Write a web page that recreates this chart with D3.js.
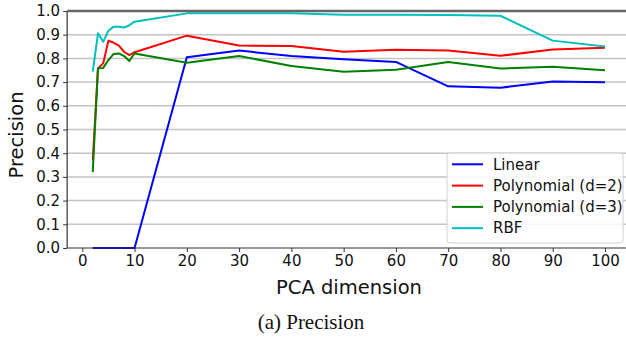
<!DOCTYPE html>
<html>
<head>
<meta charset="utf-8">
<script src="https://cdn.jsdelivr.net/npm/d3@7"></script>
<style>
  body { margin: 0; background: #fff; }
  text { font-family: "DejaVu Sans", sans-serif; }
</style>
</head>
<body>
<div id="chart"></div>
<script>
var dims = [2, 3, 4, 5, 6, 7, 8, 9, 10, 20, 30, 40, 50, 60, 70, 80, 90, 100];
var linear = [0, 0, 0, 0, 0, 0, 0, 0, 0, 0.805, 0.833, 0.81, 0.796, 0.785, 0.682, 0.676, 0.703, 0.699];
var poly2 = [0.37, 0.758, 0.779, 0.875, 0.866, 0.854, 0.828, 0.814, 0.826, 0.896, 0.854, 0.852, 0.828, 0.837, 0.833, 0.811, 0.838, 0.845];
var poly3 = [0.32, 0.758, 0.76, 0.793, 0.819, 0.821, 0.81, 0.789, 0.821, 0.782, 0.81, 0.768, 0.744, 0.752, 0.785, 0.757, 0.765, 0.75];
var rbf = [0.744, 0.906, 0.87, 0.917, 0.934, 0.934, 0.93, 0.94, 0.955, 0.99, 0.99, 0.99, 0.984, 0.984, 0.983, 0.98, 0.875, 0.85];

var seriesNames = ["Linear", "Polynomial (d=2)", "Polynomial (d=3)", "RBF"];
var seriesValues = [linear, poly2, poly3, rbf];
var colors = ["#0000ff", "#ff0000", "#008000", "#00bfbf"];
var xTicks = [0, 10, 20, 30, 40, 50, 60, 70, 80, 90, 100];
var yTicks = [0, 0.1, 0.2, 0.3, 0.4, 0.5, 0.6, 0.7, 0.8, 0.9, 1.0];

var width = 626;
var height = 339;

/* Scale */
var xScale = d3.scaleLinear().domain([0, 100]).range([82.3, 605]);
var yScale = d3.scaleLinear().domain([0, 1]).range([248, 11]);
var left = xScale(-2.9);
var right = xScale(104.9);

var svg = d3.select("#chart").append("svg")
  .attr("width", width)
  .attr("height", height);

/* Grid */
svg.append("g")
  .selectAll("line")
  .data(yTicks.slice(1, -1)).enter()
  .append("line")
  .attr("x1", left).attr("x2", right)
  .attr("y1", d => yScale(d)).attr("y2", d => yScale(d))
  .attr("stroke", "#c4c4c4")
  .attr("stroke-width", 1.5);

/* Lines */
var line = d3.line()
  .x((d, i) => xScale(dims[i]))
  .y(d => yScale(d));

svg.append("g")
  .selectAll("path")
  .data(seriesValues).enter()
  .append("path")
  .attr("d", d => line(d))
  .attr("fill", "none")
  .attr("stroke", (d, i) => colors[i])
  .attr("stroke-width", 2)
  .attr("stroke-linejoin", "round");

/* Axes */
var xAxis = d3.axisBottom(xScale).tickValues(xTicks).tickSize(4).tickPadding(3).tickFormat(d3.format("d"));
var yAxis = d3.axisLeft(yScale).tickValues(yTicks).tickSize(4).tickPadding(3).tickFormat(d3.format(".1f"));

var gx = svg.append("g")
  .attr("transform", `translate(0, ${yScale(0)})`)
  .call(xAxis);
var gy = svg.append("g")
  .attr("transform", `translate(${left}, 0)`)
  .call(yAxis);

[gx, gy].forEach(function (g) {
  g.select(".domain").remove();
  g.selectAll("line").attr("stroke", "#333");
  g.selectAll("text").attr("fill", "#111").style("font-size", "15px");
});

/* Spines */
svg.append("line")
  .attr("x1", left).attr("x2", left)
  .attr("y1", yScale(1)).attr("y2", yScale(0))
  .attr("stroke", "#333").attr("stroke-width", 1.2);
svg.append("line")
  .attr("x1", left).attr("x2", right)
  .attr("y1", yScale(0)).attr("y2", yScale(0))
  .attr("stroke", "#333").attr("stroke-width", 1.2);
svg.append("line")
  .attr("x1", left).attr("x2", right)
  .attr("y1", yScale(1)).attr("y2", yScale(1))
  .attr("stroke", "#666").attr("stroke-width", 2.5);

/* Legend */
var legend = svg.append("g");
legend.append("rect")
  .attr("x", 447).attr("y", 153)
  .attr("width", 176).attr("height", 90)
  .attr("rx", 3)
  .attr("fill", "#fff").attr("fill-opacity", 0.85)
  .attr("stroke", "#d0d0d0");

var items = legend.selectAll(".item")
  .data(seriesNames).enter()
  .append("g")
  .attr("transform", (d, i) => `translate(452, ${164.3 + i * 21.3})`);
items.append("line")
  .attr("x1", 0).attr("x2", 31)
  .attr("stroke", (d, i) => colors[i])
  .attr("stroke-width", 2);
items.append("text")
  .attr("x", 41)
  .attr("dy", "0.35em")
  .style("font-size", "15px")
  .attr("fill", "#111")
  .text(d => d);

/* Labels */
svg.append("text")
  .attr("x", 349).attr("y", 294)
  .attr("text-anchor", "middle")
  .style("font-size", "19.5px")
  .attr("fill", "#111")
  .text("PCA dimension");

svg.append("text")
  .attr("transform", "translate(23, 135) rotate(-90)")
  .attr("text-anchor", "middle")
  .style("font-size", "19.5px")
  .attr("fill", "#111")
  .text("Precision");

svg.append("text")
  .attr("x", 311).attr("y", 329)
  .attr("text-anchor", "middle")
  .style("font-family", "'Liberation Serif', 'Times New Roman', serif")
  .style("font-size", "21px")
  .attr("fill", "#111")
  .text("(a) Precision");
</script>
</body>
</html>
